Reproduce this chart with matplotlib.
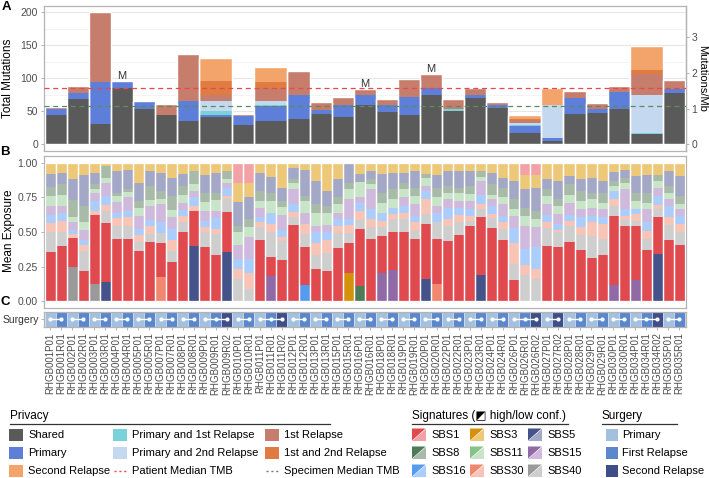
import numpy as np
import matplotlib.pyplot as plt
from matplotlib.patches import Rectangle, Polygon

plt.rcParams['font.family'] = ['Liberation Sans', 'DejaVu Sans']

## --- Data ---
samples = ["RHGB001P01", "RHGB001R01", "RHGB002P01", "RHGB002R01", "RHGB003P01", "RHGB003R01",
           "RHGB004P01", "RHGB004R01", "RHGB005P01", "RHGB005R01", "RHGB007P01", "RHGB007R01",
           "RHGB008P01", "RHGB008R01", "RHGB009P01", "RHGB009R01", "RHGB009R02", "RHGB010P01",
           "RHGB010R01", "RHGB011P01", "RHGB011R01", "RHGB011R02", "RHGB012P01", "RHGB012R01",
           "RHGB013P01", "RHGB013R01", "RHGB015P01", "RHGB015R01", "RHGB016P01", "RHGB016R01",
           "RHGB018P01", "RHGB018R01", "RHGB019P01", "RHGB019R01", "RHGB020P01", "RHGB020R01",
           "RHGB022P01", "RHGB022R01", "RHGB023P01", "RHGB023R01", "RHGB024P01", "RHGB024R01",
           "RHGB026P01", "RHGB026R01", "RHGB026R02", "RHGB027P01", "RHGB027R02", "RHGB028P01",
           "RHGB028R01", "RHGB029P01", "RHGB029R01", "RHGB030P01", "RHGB030R01", "RHGB034P01",
           "RHGB034R01", "RHGB034R02", "RHGB035P01", "RHGB035R01"]

patients = ["RHGB001", "RHGB002", "RHGB003", "RHGB004", "RHGB005", "RHGB007", "RHGB008",
            "RHGB009", "RHGB010", "RHGB011", "RHGB012", "RHGB013", "RHGB015", "RHGB016",
            "RHGB018", "RHGB019", "RHGB020", "RHGB022", "RHGB023", "RHGB024", "RHGB026",
            "RHGB027", "RHGB028", "RHGB029", "RHGB030", "RHGB034", "RHGB035"]

# Panel A: mutation counts per patient by privacy class
shared = [44, 69, 31, 85.5, 53, 44, 35, 41, 28.6, 36, 37.7, 46.5, 42, 60, 48.5, 44, 75, 50,
          70, 54.5, 16.6, 5, 46.7, 47.7, 53.8, 16, 77]
primary = [10, 8, 64, 9.5, 11, 0, 31, 3, 14, 22, 36.5, 5.5, 18, 14, 10.5, 28, 11, 0, 4, 5,
           11, 4.5, 23.6, 6, 25.2, 0, 7]
prim_rel1 = [0, 0, 0, 0, 0, 0, 0, 6, 0, 2, 0, 0, 0, 0, 0, 0, 0, 3, 0, 0, 1.5, 0, 0, 0, 0, 1.6, 0]
prim_rel2 = [0, 0, 0, 0, 0, 0, 0, 16, 0, 5, 0, 0, 0, 0, 0, 0, 0, 0, 0, 0, 3.5, 50, 0, 0, 0, 56.4, 0]
relapse1 = [3, 12, 105, 1, 1.5, 17, 70, 9, 3, 20, 37.3, 12, 11, 10, 10, 27, 20.5, 16, 12, 4,
            5, 0, 10, 9, 10, 32.5, 13]
rel1_rel2 = [0, 0, 0, 0, 0, 0, 0, 20.5, 0, 10, 0, 0, 0, 0, 0, 0, 0, 0, 0, 0, 1.5, 0, 0, 0, 0, 6.5, 0]
relapse2 = [0, 0, 0, 0, 0, 0, 0, 35.5, 0, 21.5, 0, 0, 0, 0, 0, 0, 0, 0, 0, 0, 6, 26, 0, 0, 0, 36, 0]
marked = ["RHGB004", "RHGB016", "RHGB020"]
patient_median = 85.5
specimen_median = 57.5
mut_per_mb = 54.1

# Panel B: mean signature exposure per sample
sbs1 = [.355, .400, .210, .215, .493, .425, .450, .450, .366, .430, .245, .280, .500, .253, .390,
        .330, .292, .143, .143, .443, .136, .300, .550, .275, .230, .215, .383, .220, .410, .450,
        .274, .275, .497, .450, .400, .323, .438, .478, .540, .415, .526, .445, .150, .084, .084,
        .400, .390, .430, .373, .310, .335, .497, .540, .390, .373, .263, .445, .407]
sbs3 = [.080, .070, .120, .085, .070, .025, .060, .053, .143, .060, .070, .110, .080, .055, .085,
        .070, .060, .143, .107, .072, .100, .180, .036, .053, .132, .200, .120, .200, .080, .055,
        .077, .072, .072, .060, .083, .084, .060, .060, .060, .060, .072, .108, .132, .106, .096,
        .120, .132, .096, .120, .108, .132, .067, .053, .096, .084, .084, .060, .096]
sbs5 = [.095, .085, .145, .225, .085, .140, .155, .137, .132, .110, .130, .130, .090, .400, .135,
        .150, .354, .167, .157, .131, .120, .095, .084, .187, .168, .110, .130, .144, .060, .060,
        .138, .118, .072, .120, .158, .096, .107, .120, .107, .190, .083, .070, .131, .133, .167,
        .072, .131, .059, .083, .107, .083, .065, .055, .120, .131, .342, .107, .144]
sbs8 = [.065, .080, .130, .120, .035, .085, .025, .020, .048, .095, .060, .100, .065, .100, .065,
        .050, .055, .048, .060, .072, .055, .041, .024, .035, .060, .050, .050, .046, .110, .040,
        .072, .073, .046, .060, .026, .070, .048, .035, .060, .040, .079, .072, .067, .060, .060,
        .048, .047, .079, .072, .043, .072, .035, .036, .060, .072, .048, .048, .060]
sbs11 = [.070, .075, .035, .055, .025, .035, .045, .040, .060, .045, .040, .055, .052, .045, .060,
         .075, .030, .096, .071, .048, .085, .062, .046, .085, .095, .090, .060, .073, .110, .035,
         .073, .060, .060, .060, .060, .060, .048, .060, .048, .032, .029, .050, .053, .072, .060,
         .060, .060, .053, .060, .065, .048, .036, .046, .060, .048, .048, .043, .035]
sbs15 = [.070, .050, .055, .075, .060, .095, .075, .095, .092, .100, .130, .080, .053, .050, .075,
         .055, .036, .096, .156, .072, .182, .105, .110, .083, .048, .053, .047, .144, .040, .145,
         .200, .222, .060, .083, .033, .050, .060, .048, .055, .102, .047, .083, .091, .167, .143,
         .078, .073, .091, .060, .060, .060, .120, .145, .150, .095, .060, .052, .048]
sbs16 = [.055, .060, .030, .035, .070, .065, .040, .045, .045, .050, .080, .085, .043, .065, .045,
         .075, .055, .072, .106, .035, .083, .055, .054, .115, .077, .052, .048, .043, .060, .072,
         .060, .047, .050, .047, .060, .070, .084, .055, .053, .066, .060, .047, .106, .115, .156,
         .048, .040, .042, .072, .047, .048, .060, .048, .035, .060, .066, .085, .060]
sbs30 = [.065, .080, .025, .040, .035, .040, .055, .070, .050, .055, .175, .080, .047, .032, .035,
         .040, .028, .072, .110, .037, .059, .024, .041, .071, .085, .095, .055, .057, .060, .060,
         .047, .037, .047, .060, .107, .127, .048, .052, .037, .035, .032, .050, .150, .076, .071,
         .048, .020, .035, .055, .096, .107, .047, .029, .050, .060, .029, .055, .060]
sbs40 = [.145, .100, .250, .150, .127, .090, .095, .090, .064, .055, .070, .080, .070, .000, .110,
         .155, .090, .163, .090, .090, .180, .138, .055, .096, .105, .135, .107, .073, .070, .083,
         .059, .096, .096, .060, .073, .120, .107, .092, .040, .060, .072, .075, .120, .187, .163,
         .126, .107, .115, .105, .164, .115, .073, .048, .040, .077, .060, .105, .090]
# SBS1 is high-confidence except in these samples
sbs1_low = ["RHGB010P01", "RHGB010R01", "RHGB026R01", "RHGB026R02"]
# other signatures called with high confidence
extra_high = {"RHGB002P01": "SBS40", "RHGB003P01": "SBS40", "RHGB003R01": "SBS5",
              "RHGB007P01": "SBS30", "RHGB008R01": "SBS5", "RHGB009R02": "SBS5",
              "RHGB011R01": "SBS15", "RHGB012R01": "SBS16", "RHGB015R01": "SBS3",
              "RHGB016P01": "SBS8", "RHGB018P01": "SBS15", "RHGB018R01": "SBS15",
              "RHGB020P01": "SBS5", "RHGB020R01": "SBS30", "RHGB023R01": "SBS5",
              "RHGB030P01": "SBS15", "RHGB034P01": "SBS15", "RHGB034R02": "SBS5"}

## --- Styles ---
privacy_cols = {"Shared": "#5a5a5a", "Primary": "#5d7fd9", "Primary and 1st Relapse": "#78d2d7",
                "Primary and 2nd Relapse": "#c4d8ef", "1st Relapse": "#c67d6b",
                "1st and 2nd Relapse": "#e07b42", "Second Relapse": "#f3a46b"}
sig_cols = {"SBS1": ("#e04a4f", "#f2a2a6"), "SBS3": ("#d4920c", "#edc879"),
            "SBS5": ("#46528a", "#a3a8c6"), "SBS8": ("#4f7a58", "#a8bba9"),
            "SBS11": ("#86c386", "#c8e5c8"), "SBS15": ("#8f6aa6", "#cfb9dc"),
            "SBS16": ("#559cf0", "#abcdfc"), "SBS30": ("#f0886f", "#f8c4b5"),
            "SBS40": ("#9a9a9a", "#cecece")}
surg_cols = {"Primary": "#a3c0df", "First Relapse": "#5b87cd", "Second Relapse": "#3f4e88"}
frame_col = "#b3b3b3"
tick_col = "#4d4d4d"
red_line = "#e8474b"
grey_line = "#5f8a60"

W, H = 709, 478
fig = plt.figure(figsize=(W / 100, H / 100), dpi=100)


def px_axes(l, t, r, b):
    return fig.add_axes([l / W, 1 - b / H, (r - l) / W, (b - t) / H])


def style(ax):
    for s in ax.spines.values():
        s.set_color(frame_col)
        s.set_linewidth(0.9)
    ax.tick_params(colors=frame_col, labelcolor=tick_col, labelsize=7.5, length=2.5, width=0.7, pad=1.5)


x = np.arange(len(samples))
xlim = (-0.6, len(samples) - 0.4)

## --- Panel A ---
axA = px_axes(43.5, 5.5, 686, 151)
style(axA)
pat_of = [s[:7] for s in samples]
starts = np.array([pat_of.index(p) for p in patients])
counts = np.array([pat_of.count(p) for p in patients])
centers = starts + (counts - 1) / 2
layers = [("Shared", shared), ("Primary", primary), ("Primary and 1st Relapse", prim_rel1),
          ("Primary and 2nd Relapse", prim_rel2), ("1st Relapse", relapse1),
          ("1st and 2nd Relapse", rel1_rel2), ("Second Relapse", relapse2)]
bottom = np.zeros(len(patients))
for name, vals in layers:
    vals = np.array(vals, dtype=float)
    axA.bar(centers, vals, width=counts, bottom=bottom, color=privacy_cols[name], linewidth=0, zorder=2)
    bottom += vals
axA.bar(centers, bottom, width=counts, fill=False, edgecolor="white", linewidth=1.0, zorder=3)
for p in marked:
    i = patients.index(p)
    axA.text(centers[i], bottom[i] + 3, "M", ha="center", va="baseline", fontsize=8, color="#333333", zorder=4)
axA.axhline(patient_median, color=red_line, ls=(0, (4, 3)), lw=0.9, zorder=4)
axA.axhline(specimen_median, color=grey_line, ls=(0, (4, 3)), lw=0.9, zorder=4)
axA.set_xlim(*xlim)
axA.set_ylim(-10, 210)
axA.set_yticks([0, 50, 100, 150, 200])
axA.set_yticks([25, 75, 125, 175], minor=True)
axA.tick_params(axis="y", which="minor", length=0)
axA.grid(axis="y", which="major", color="#e6e6e6", lw=0.8, zorder=0)
axA.grid(axis="y", which="minor", color="#efefef", lw=0.5, zorder=0)
axA.set_axisbelow(True)
axA.set_xticks([])
sec = axA.secondary_yaxis("right", functions=(lambda v: v / mut_per_mb, lambda v: v * mut_per_mb))
sec.set_yticks([0, 1, 2, 3])
sec.spines["right"].set_color(frame_col)
sec.spines["right"].set_linewidth(0.9)
sec.tick_params(colors=frame_col, labelcolor=tick_col, labelsize=7.5, length=2.5, width=0.7, pad=1.5)

## --- Panel B ---
axB = px_axes(43.5, 156, 686, 308)
style(axB)
sig_vals = {"SBS1": sbs1, "SBS3": sbs3, "SBS5": sbs5, "SBS8": sbs8, "SBS11": sbs11,
            "SBS15": sbs15, "SBS16": sbs16, "SBS30": sbs30, "SBS40": sbs40}
stack_order = ["SBS40", "SBS30", "SBS16", "SBS15", "SBS11", "SBS8", "SBS5", "SBS3", "SBS1"]


def is_high(sample, sig):
    if sig == "SBS1":
        return sample not in sbs1_low
    return extra_high.get(sample) == sig


bottom = np.zeros(len(samples))
for conf in (True, False):
    for sig in stack_order:
        h = np.array([v if is_high(s, sig) == conf else 0 for s, v in zip(samples, sig_vals[sig])])
        axB.bar(x, h, width=1, bottom=bottom, color=sig_cols[sig][0 if conf else 1], linewidth=0, zorder=2)
        bottom += h
axB.bar(x, bottom, width=1, fill=False, edgecolor="white", linewidth=0.9, zorder=3)
axB.set_xlim(*xlim)
axB.set_ylim(-0.05, 1.05)
axB.set_yticks([0, 0.25, 0.5, 0.75, 1.0])
axB.set_yticklabels(["0.00", "0.25", "0.50", "0.75", "1.00"])
axB.set_xticks([])

## --- Panel C ---
axC = px_axes(43.5, 311.5, 686, 327)
style(axC)
surgery = ["Primary" if s[7] == "P" else ("First Relapse" if s.endswith("R01") else "Second Relapse")
           for s in samples]
axC.bar(x, 1, width=1, bottom=0, color=[surg_cols[s] for s in surgery], edgecolor="#dfe7f2",
        linewidth=0.4, zorder=1)
for st, n in zip(starts, counts):
    axC.plot([st, st + n - 1], [0.5, 0.5], color="white", lw=1.0, zorder=2)
axC.scatter(x, np.full(len(x), 0.5), s=9, color="white", zorder=3, linewidths=0)
axC.set_xlim(*xlim)
axC.set_ylim(0, 1)
axC.set_yticks([0.5])
axC.set_yticklabels(["Surgery"], fontsize=7.5, color="#333333")
axC.tick_params(axis="y", length=2, pad=1)
axC.set_xticks(x)
axC.set_xticklabels(samples, rotation=90, fontsize=7)
axC.tick_params(axis="x", pad=1.5)

## --- Labels and legends (pixel overlay) ---
lg = fig.add_axes([0, 0, 1, 1])
lg.set_xlim(0, W)
lg.set_ylim(H, 0)
lg.axis("off")
lg.patch.set_alpha(0)

for lab, (px, py) in {"A": (6, 7), "B": (5, 152), "C": (5, 302)}.items():
    lg.text(px, py, lab, fontsize=9.5, fontweight="bold", ha="center", va="center")
lg.text(8.5, 78, "Total Mutations", rotation=90, fontsize=8.5, ha="center", va="center")
lg.text(9.5, 231, "Mean Exposure", rotation=90, fontsize=8.5, ha="center", va="center")
lg.text(702.5, 78, "Mutations/Mb", rotation=270, fontsize=8, ha="center", va="center")

rows = [434.5, 452.5, 470.5]
fs = 8


def title(px, text, x_end):
    lg.text(px, 416, text, fontsize=8.5, ha="left", va="center")
    lg.plot([px, x_end], [424, 424], color="#333333", lw=0.9)


def square(px, py, col, w=13.5, h=12):
    lg.add_patch(Rectangle((px, py - h / 2), w, h, facecolor=col, edgecolor="none"))


title(10, "Privacy", 330)
priv_layout = [("Shared", 9, 0), ("Primary", 9, 1), ("Second Relapse", 9, 2),
               ("Primary and 1st Relapse", 113, 0), ("Primary and 2nd Relapse", 113, 1),
               ("1st Relapse", 265, 0), ("1st and 2nd Relapse", 265, 1)]
for name, px, r in priv_layout:
    square(px, rows[r], privacy_cols[name])
    lg.text(px + 19, rows[r], name, fontsize=fs, ha="left", va="center")
for px, col, name in [(113, red_line, "Patient Median TMB"), (265, grey_line, "Specimen Median TMB")]:
    lg.plot([px + 1, px + 13], [rows[2], rows[2]], color=col, ls=(0, (1.5, 2)), lw=1.0)
    lg.text(px + 19, rows[2], name, fontsize=fs, ha="left", va="center")

title(412, "Signatures (\u25e9 high/low conf.)", 568)
sig_layout = [("SBS1", 412, 0), ("SBS8", 412, 1), ("SBS16", 412, 2),
              ("SBS3", 470, 0), ("SBS11", 470, 1), ("SBS30", 470, 2),
              ("SBS5", 528, 0), ("SBS15", 528, 1), ("SBS40", 528, 2)]
for name, px, r in sig_layout:
    y0, y1 = rows[r] - 6, rows[r] + 6
    x1 = px + 13.5
    lg.add_patch(Polygon([(px, y0), (x1, y0), (px, y1)], closed=True, facecolor=sig_cols[name][0], edgecolor="none"))
    lg.add_patch(Polygon([(x1, y0), (x1, y1), (px, y1)], closed=True, facecolor=sig_cols[name][1], edgecolor="none"))
    lg.text(px + 19, rows[r], name, fontsize=fs, ha="left", va="center")

title(602, "Surgery", 677)
for r, name in enumerate(["Primary", "First Relapse", "Second Relapse"]):
    square(606, rows[r], surg_cols[name], w=12)
    lg.text(622, rows[r], name, fontsize=fs, ha="left", va="center")

fig.savefig("out.png", dpi=100)
